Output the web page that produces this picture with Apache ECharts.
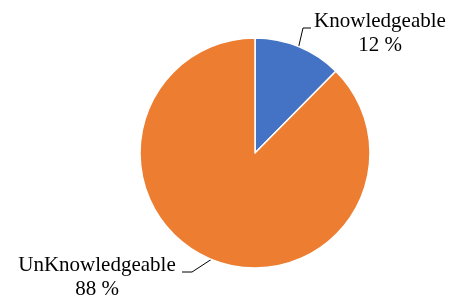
<!DOCTYPE html>
<html>
<head>
<meta charset="utf-8">
<script src="https://cdn.jsdelivr.net/npm/echarts@6/dist/echarts.min.js"></script>
<style>
  html, body { margin: 0; padding: 0; background: #fff; }
  #chart { width: 457px; height: 300px; }
</style>
</head>
<body>
<div id="chart"></div>
<script>
const categories = ['Knowledgeable', 'UnKnowledgeable']
const values = [12.4, 87.6]
const colors = ['#4472C4', '#ED7D31']

// where each label sits and how its leader line bends
const labelSpots = [
  { x: 380, y: 9, bend: [303, 28], end: [311, 28] },
  { x: 97, y: 253, bend: [192, 272], end: [182, 272] },
]

const chart = echarts.init(document.getElementById('chart'))

chart.setOption({
  backgroundColor: '#fff',
  animation: false,
  series: [
    {
      type: 'pie',
      center: [255, 153],
      radius: 115,
      startAngle: 90,
      data: categories.map((name, i) => ({ name, value: values[i], itemStyle: { color: colors[i] } })),
      itemStyle: { borderColor: '#fff', borderWidth: 1.5 },
      label: {
        show: true,
        position: 'outside',
        alignTo: 'none',
        overflow: 'none',
        width: 300,
        fontFamily: 'Liberation Serif',
        fontSize: 21,
        lineHeight: 24,
        color: '#000',
        align: 'center',
        formatter: (p) => `${p.name}\n${Math.round(p.percent)} %`,
      },
      labelLine: {
        show: true,
        length: 15,
        length2: 8,
        lineStyle: { color: '#000', width: 1 },
      },
      labelLayout: (params) => {
        const s = labelSpots[params.dataIndex]
        const start = params.labelLinePoints ? params.labelLinePoints[0] : s.bend
        return {
          x: s.x,
          y: s.y,
          align: 'center',
          verticalAlign: 'top',
          labelLinePoints: [start, s.bend, s.end],
        }
      },
      emphasis: { disabled: true },
    },
  ],
})
</script>
</body>
</html>
